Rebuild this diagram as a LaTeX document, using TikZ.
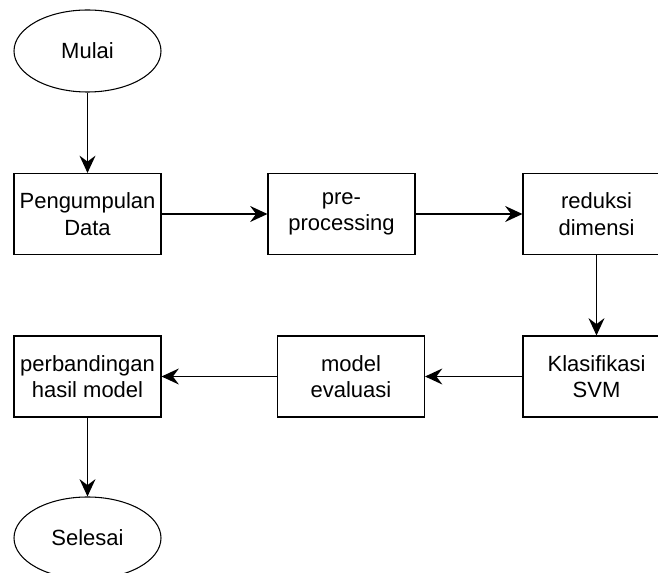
\documentclass[tikz,border=0pt]{standalone}
\usepackage{fontspec}
\setmainfont{Liberation Sans}
\usetikzlibrary{shapes.geometric,arrows.meta}

\begin{document}
\begin{tikzpicture}[x=0.75pt, y=-0.75pt,
		kotak/.style={draw, line width=0.8pt, minimum width=110.25pt, minimum height=60.75pt, inner sep=0pt, align=center, font=\fontsize{16.5}{20}\selectfont},
		oval/.style={draw, ellipse, line width=0.8pt, minimum width=110.25pt, minimum height=61.5pt, inner sep=0pt, font=\fontsize{16.5}{20}\selectfont},
		panah/.style={-{Stealth[length=13pt, width=12pt, inset=4.5pt]}, line width=1.1pt}]

				\useasboundingbox (0,0) rectangle (658,573);

				\node [oval] (mulai) at (87.5, 51) {Mulai};

				\node [kotak] (kumpul) at (87.5, 214) {Pengumpulan\\Data};
				\node [kotak] (pre) at (341.5, 214) {pre-\\processing};
				\node [kotak] (reduksi) at (596.5, 214) {reduksi\\dimensi};

				\node [kotak] (svm) at (596.5, 376.5) {Klasifikasi\\SVM};
				\node [kotak] (evaluasi) at (351, 376.5) {model\\evaluasi};
				\node [kotak] (banding) at (87.5, 376.5) {perbandingan\\hasil model};

				\node [oval] (selesai) at (87.5, 538) {Selesai};

				\draw [panah] (mulai) -- (kumpul);
				\draw [panah] (kumpul) -- (pre);
				\draw [panah] (pre) -- (reduksi);
				\draw [panah] (reduksi) -- (svm);
				\draw [panah] (svm) -- (evaluasi);
				\draw [panah] (evaluasi) -- (banding);
				\draw [panah] (banding) -- (selesai);
		\end{tikzpicture}
\end{document}
